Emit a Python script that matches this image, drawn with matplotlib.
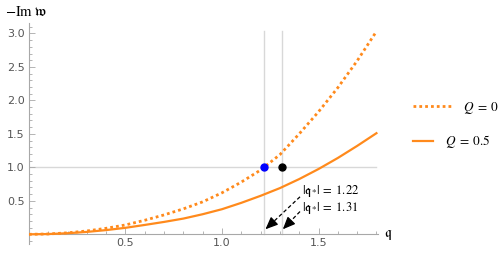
"""Damping of the hydro mode, -Im w vs q"""

import matplotlib.pyplot as plt
from matplotlib.ticker import MultipleLocator

plt.rcParams["mathtext.fontset"] = "stix"

# values
q = [0, 0.1, 0.2, 0.3, 0.4, 0.5, 0.6, 0.7, 0.8, 0.9,
     1.0, 1.1, 1.2, 1.3, 1.4, 1.5, 1.6, 1.7, 1.8]
im_w_Q0 = [0, 0.005, 0.022, 0.05, 0.09, 0.14, 0.21, 0.29, 0.38, 0.485,
           0.62, 0.78, 0.96, 1.19, 1.5, 1.83, 2.19, 2.59, 3.03]
im_w_Q05 = [0, 0.004, 0.016, 0.036, 0.063, 0.097, 0.14, 0.185, 0.235, 0.3,
            0.375, 0.47, 0.575, 0.69, 0.825, 0.975, 1.14, 1.32, 1.51]

q_star = [1.22, 1.31]
dot_colors = ["#0000ff", "#000000"]
star_labels = [r"$|\mathfrak{q}_{*}|\;=\;1.22$", r"$|\mathfrak{q}_{*}|\;=\;1.31$"]
arrow_tails = [(1.404, 0.56), (1.404, 0.34)]
arrow_tip_y = 0.075
text_y = [0.64, 0.39]

orange = "#ff8a1c"
grid_c = "#d8d8d8"
axis_c = "#a8a8a8"

fig = plt.figure(figsize=(4.98, 2.54), dpi=100)
ax = fig.add_axes([0.0582, 0.038, 0.7008, 0.8726])
ax.set_xlim(0, 1.808)
ax.set_ylim(-0.15, 3.16)

# grid lines through the critical points
ax.plot([0, 1.8], [1, 1], color=grid_c, lw=1, zorder=1)
for qs in q_star:
    ax.plot([qs, qs], [0, 3.03], color=grid_c, lw=1, zorder=1)

l0, = ax.plot(q, im_w_Q0, color=orange, lw=2, ls=(0, (1, 1.1)),
              label=r"$Q\;=\;0$", zorder=3)
l1, = ax.plot(q, im_w_Q05, color=orange, lw=1.6, label=r"$Q\;=\;0.5$", zorder=3)

for qs, c in zip(q_star, dot_colors):
    ax.plot(qs, 1, "o", color=c, ms=5, zorder=4)

# dashed arrows pointing at the critical momenta
for qs, (tx, ty), lab, yt in zip(q_star, arrow_tails, star_labels, text_y):
    tip = (qs + 0.005, arrow_tip_y)
    sx = tip[0] + (tx - tip[0]) * 0.25
    sy = tip[1] + (ty - tip[1]) * 0.25
    ax.plot([tx, sx], [ty, sy], color="k", lw=0.9, ls=(0, (3, 2)), zorder=5)
    ax.annotate("", xy=tip, xytext=(sx, sy),
                arrowprops=dict(arrowstyle="-|>,head_length=0.75,head_width=0.32",
                                color="k", lw=0.9, shrinkA=0, shrinkB=0), zorder=5)
    ax.text(tx + 0.01, yt, lab, fontsize=9, va="center", ha="left")

# mathematica-like axes
for s in ["top", "right"]:
    ax.spines[s].set_visible(False)
ax.spines["left"].set_position(("data", 0))
ax.spines["bottom"].set_position(("data", 0))
for s in ["left", "bottom"]:
    ax.spines[s].set_color(axis_c)
    ax.spines[s].set_linewidth(0.8)

ax.set_xticks([0.5, 1.0, 1.5])
ax.set_yticks([0.5, 1.0, 1.5, 2.0, 2.5, 3.0])
ax.xaxis.set_minor_locator(MultipleLocator(0.1))
ax.yaxis.set_minor_locator(MultipleLocator(0.1))
ax.tick_params(which="both", direction="in", color=axis_c, labelcolor="#555555",
               labelsize=8, width=0.6)
ax.tick_params(which="major", length=4, pad=3)
ax.tick_params(which="minor", length=2)
for lab in ax.get_xticklabels() + ax.get_yticklabels():
    lab.set_family("DejaVu Sans")

fig.text(0.01, 0.955, r"$-\mathrm{Im}\;\mathfrak{w}$", fontsize=10.5, va="center", ha="left")
fig.text(0.772, 0.075, r"$\mathfrak{q}$", fontsize=10, va="center", ha="left")

# two legend entries with different swatch lengths, as in the reference
fig.legend(handles=[l0], loc="center left", bbox_to_anchor=(0.829, 0.575),
           frameon=False, fontsize=9.5, handlelength=2.9, handletextpad=0.9,
           borderpad=0, borderaxespad=0)
fig.legend(handles=[l1], loc="center left", bbox_to_anchor=(0.829, 0.441),
           frameon=False, fontsize=9.5, handlelength=1.5, handletextpad=0.9,
           borderpad=0, borderaxespad=0)

fig.savefig("out.png", dpi=100)
